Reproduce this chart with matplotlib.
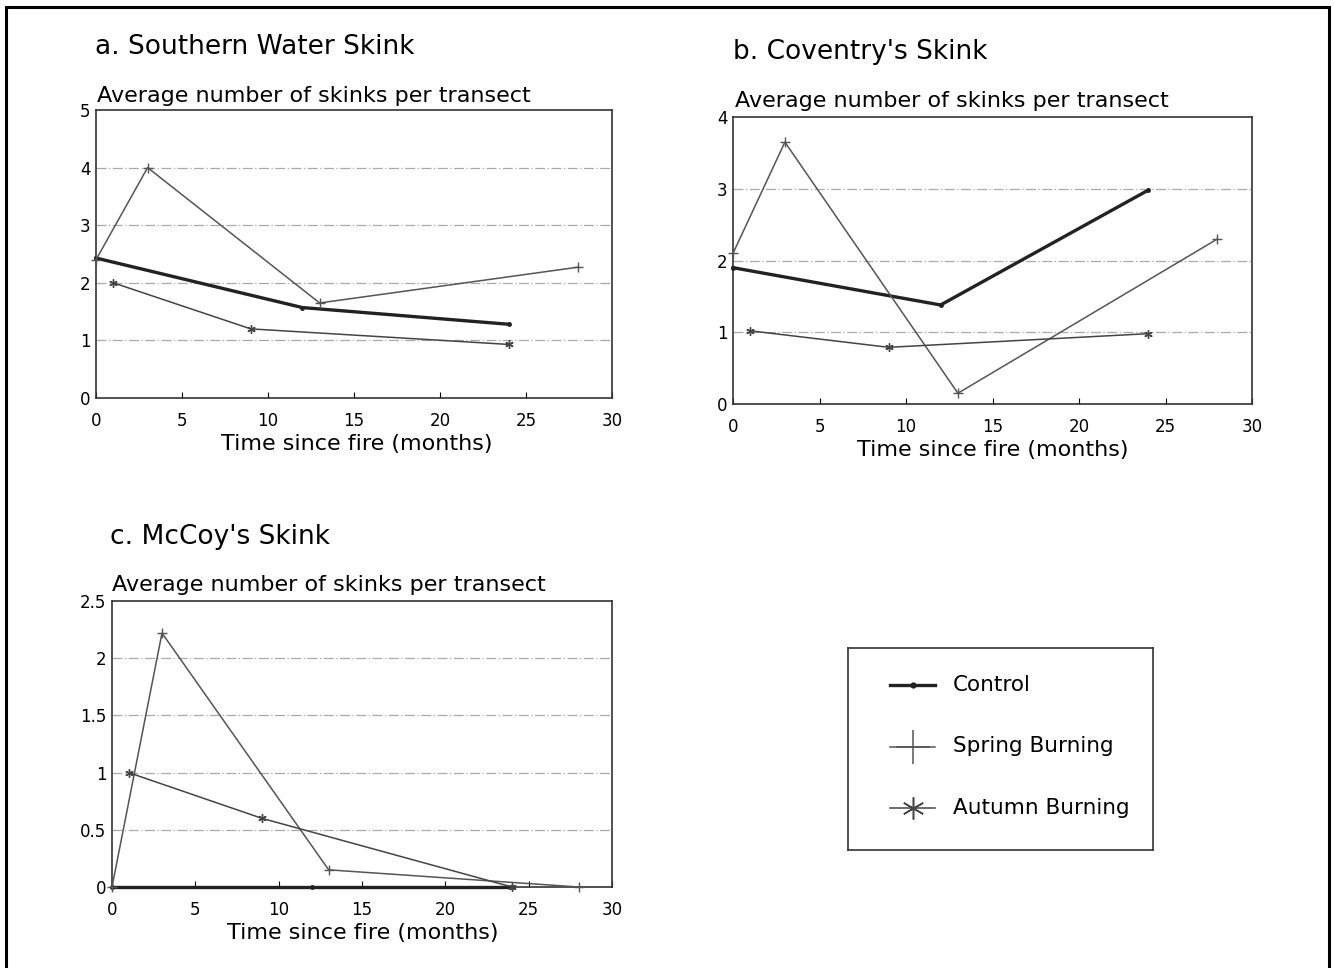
import matplotlib
matplotlib.use("Agg")
import matplotlib.pyplot as plt
from matplotlib.patches import Rectangle

plt.rcParams['font.family'] = ['DejaVu Sans']

W, H = 1334, 968

# data (months since fire, skinks per transect)
ctrl_x = [0, 12, 24]
spring_x = [0, 3, 13, 28]
autumn_x = [1, 9, 24]

a_ctrl = [2.43, 1.57, 1.28]
a_spring = [2.4, 4.0, 1.65, 2.27]
a_autumn = [2.0, 1.2, 0.93]

b_ctrl = [1.9, 1.38, 2.98]
b_spring = [2.1, 3.65, 0.15, 2.3]
b_autumn = [1.02, 0.79, 0.98]

c_ctrl = [0.0, 0.0, 0.0]
c_spring = [0.0, 2.22, 0.15, 0.0]
c_autumn = [1.0, 0.6, 0.0]

titles = ["a. Southern Water Skink", "b. Coventry's Skink", "c. McCoy's Skink"]
ylabel = "Average number of skinks per transect"
xlabel = "Time since fire (months)"
xticks = [0, 5, 10, 15, 20, 25, 30]
a_yticks = [0, 1, 2, 3, 4, 5]
b_yticks = [0, 1, 2, 3, 4]
c_yticks = [0, 0.5, 1, 1.5, 2, 2.5]
c_ylabels = ["0", "0.5", "1", "1.5", "2", "2.5"]
legend_labels = ["Control", "Spring Burning", "Autumn Burning"]

fig = plt.figure(figsize=(W / 100, H / 100), dpi=100)

# outer frame
fig.patches.append(Rectangle((6 / W, -0.01), 1323 / W, 1 - 7 / H + 0.01,
                             transform=fig.transFigure, fill=False,
                             edgecolor="black", linewidth=2.2))

CTRL = dict(color="#222222", lw=2.4, marker=".", ms=5)
SPR = dict(color="#555555", lw=1.1, marker="+", ms=7, mew=1)
AUT = dict(color="#444444", lw=1.1, marker=(6, 2, 0), ms=6, mew=1)


def panel(box, title, yt, ytl, ctrl, spr, aut, title_xy, ylab_xy, xlab_xy):
    l, r, t, b = box
    ax = fig.add_axes([l / W, 1 - b / H, (r - l) / W, (b - t) / H])
    ax.plot(ctrl_x, ctrl, **CTRL, zorder=3, clip_on=False)
    ax.plot(spring_x, spr, **SPR, zorder=3, clip_on=False)
    ax.plot(autumn_x, aut, **AUT, zorder=3, clip_on=False)
    ax.set_xlim(0, 30)
    ax.set_ylim(yt[0], yt[-1])
    ax.set_xticks(xticks)
    ax.set_yticks(yt)
    ax.set_yticklabels(ytl if ytl else [str(v) for v in yt])
    for v in yt[1:-1]:
        ax.axhline(v, color="#aaaaaa", lw=0.9, ls=(0, (8, 2, 1, 2)), zorder=1)
    ax.tick_params(axis="x", direction="in", length=4, labelsize=12, pad=10)
    ax.tick_params(axis="y", length=0, labelsize=12, pad=4)
    for s in ax.spines.values():
        s.set_color("#333333")
        s.set_linewidth(1.2)
    fig.text(title_xy[0] / W, 1 - title_xy[1] / H, title, fontsize=19,
             ha="left", va="center")
    fig.text(ylab_xy[0] / W, 1 - ylab_xy[1] / H, ylabel, fontsize=16,
             ha="left", va="center")
    fig.text(xlab_xy[0] / W, 1 - xlab_xy[1] / H, xlabel, fontsize=16,
             ha="center", va="center")
    return ax


panel((96, 612, 110, 398), titles[0], a_yticks, None, a_ctrl, a_spring,
      a_autumn, (95, 47), (97, 96), (357, 444))
panel((733, 1252, 117, 404), titles[1], b_yticks, None, b_ctrl, b_spring,
      b_autumn, (733, 52), (735, 101), (993, 450))
panel((112, 612, 601, 887), titles[2], c_yticks, c_ylabels, c_ctrl, c_spring,
      c_autumn, (110, 537), (112, 585), (363, 933))

# legend box drawn in its own axes (pixel units inside the box)
lx0, lx1, ly0, ly1 = 848, 1153, 648, 850
lax = fig.add_axes([lx0 / W, 1 - ly1 / H, (lx1 - lx0) / W, (ly1 - ly0) / H])
lax.set_xlim(0, lx1 - lx0)
lax.set_ylim(ly1 - ly0, 0)
lax.set_xticks([])
lax.set_yticks([])
for s in lax.spines.values():
    s.set_color("#333333")
    s.set_linewidth(1.2)
styles = [
    dict(color="#222222", lw=2.4, marker=".", ms=7),
    dict(color="#555555", lw=1.1, marker="+", ms=24, mew=1.1),
    dict(color="#444444", lw=1.1, marker=(6, 2, 0), ms=16, mew=1.1),
]
for i, (lab, st) in enumerate(zip(legend_labels, styles)):
    yy = 37 + i * 61.5
    lax.plot([42, 87], [yy, yy], **{k: v for k, v in st.items()
                                    if k not in ("marker", "ms", "mew")})
    lax.plot([64.5], [yy], linestyle="none", **{k: v for k, v in st.items()
                                                if k != "lw"})
    lax.text(105, yy, lab, fontsize=15.5, ha="left", va="center")

fig.savefig("out.png", dpi=100)
